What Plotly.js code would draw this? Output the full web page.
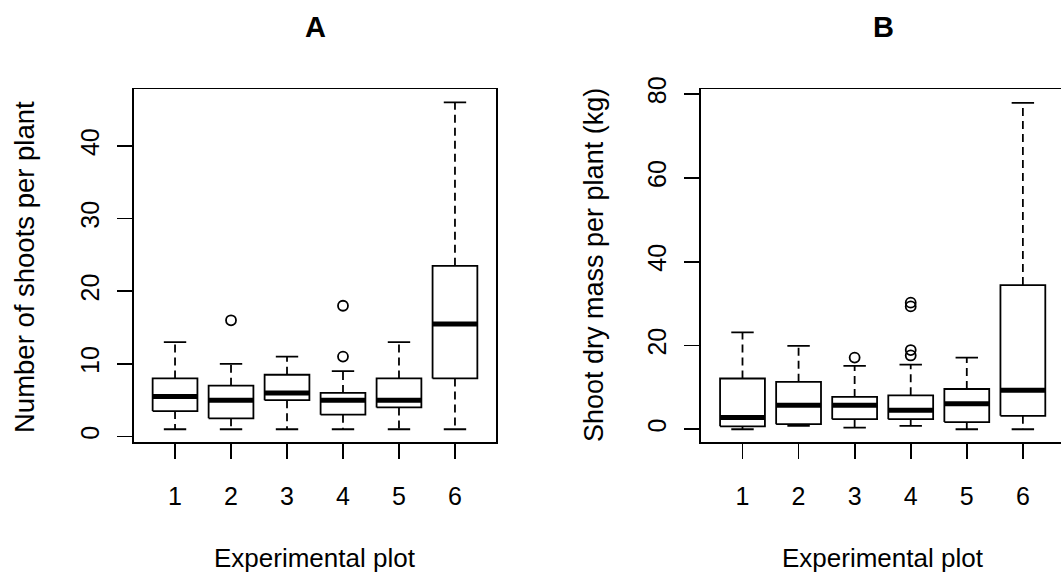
<!DOCTYPE html>
<html>
<head>
<meta charset="utf-8">
<script src="https://cdn.plot.ly/plotly-3.0.1.min.js"></script>
<style>html,body{margin:0;padding:0;background:#fff;}#chart{width:1061px;height:578px;}</style>
</head>
<body>
<div id="chart"></div>
<script>
// ---- data ----
var plots = [1, 2, 3, 4, 5, 6];

// Panel A: Number of shoots per plant
var shootsLower  = [1, 1, 1, 1, 1, 1];
var shootsQ1     = [3.5, 2.5, 5, 3, 4, 8];
var shootsMedian = [5.5, 5, 6, 5, 5, 15.5];
var shootsQ3     = [8, 7, 8.5, 6, 8, 23.5];
var shootsUpper  = [13, 10, 11, 9, 13, 46];
var shootsOutPlot = [2, 4, 4];
var shootsOutVal  = [16, 11, 18];

// Panel B: Shoot dry mass per plant (kg)
var massLower  = [0, 0.8, 0.4, 0.8, 0, 0];
var massQ1     = [0.7, 1.2, 2.4, 2.4, 1.7, 3.2];
var massMedian = [2.8, 5.7, 5.7, 4.5, 6.1, 9.3];
var massQ3     = [12.1, 11.3, 7.7, 8.1, 9.6, 34.4];
var massUpper  = [23.1, 19.9, 15.1, 15.4, 17.1, 77.9];
var massOutPlot = [3, 4, 4, 4, 4];
var massOutVal  = [17.1, 30.2, 29.3, 18.9, 17.6];

var yTicksA = [0, 10, 20, 30, 40];
var yTicksB = [0, 20, 40, 60, 80];

// ---- styles ----
var BOXHALF = 0.4, CAPHALF = 0.2, LW = 1.8;
var FONT = 'Liberation Sans, Arial, Helvetica, sans-serif';

function boxTraces(xa, ya, lo, q1, med, q3, hi, outX, outY) {
  var bx = [], by = [], mx = [], my = [], wx = [], wy = [], cx = [], cy = [];
  for (var i = 0; i < plots.length; i++) {
    var p = plots[i];
    bx.push(p - BOXHALF, p + BOXHALF, p + BOXHALF, p - BOXHALF, p - BOXHALF, null);
    by.push(q1[i], q1[i], q3[i], q3[i], q1[i], null);
    mx.push(p - BOXHALF, p + BOXHALF, null);
    my.push(med[i], med[i], null);
    wx.push(p, p, null, p, p, null);
    wy.push(q3[i], hi[i], null, q1[i], lo[i], null);
    cx.push(p - CAPHALF, p + CAPHALF, null, p - CAPHALF, p + CAPHALF, null);
    cy.push(hi[i], hi[i], null, lo[i], lo[i], null);
  }
  var common = {type: 'scatter', mode: 'lines', xaxis: xa, yaxis: ya, hoverinfo: 'skip', showlegend: false};
  return [
    Object.assign({x: wx, y: wy, line: {color: '#000', width: LW, dash: '8px,5px'}}, common),
    Object.assign({x: cx, y: cy, line: {color: '#000', width: LW}}, common),
    Object.assign({x: bx, y: by, line: {color: '#000', width: LW}}, common),
    Object.assign({x: mx, y: my, line: {color: '#000', width: 5}}, common),
    {type: 'scatter', mode: 'markers', x: outX, y: outY, xaxis: xa, yaxis: ya, showlegend: false,
     marker: {symbol: 'circle-open', size: 10, color: '#000', line: {width: LW, color: '#000'}}}
  ];
}

var data = [].concat(
  boxTraces('x', 'y', shootsLower, shootsQ1, shootsMedian, shootsQ3, shootsUpper, shootsOutPlot, shootsOutVal),
  boxTraces('x2', 'y2', massLower, massQ1, massMedian, massQ3, massUpper, massOutPlot, massOutVal)
);

var W = 1061, H = 578;
var yDom = [(H - 442.3) / H, (H - 89.3) / H];
var axisBase = {
  showgrid: false, zeroline: false, showline: true, linecolor: '#000', linewidth: LW,
  ticks: 'outside', ticklen: 15, tickwidth: LW, tickcolor: '#000',
  tickfont: {family: FONT, size: 25, color: '#000'}, fixedrange: true
};

var layout = {
  width: W, height: H,
  margin: {l: 0, r: 0, t: 0, b: 0},
  paper_bgcolor: '#fff', plot_bgcolor: '#fff',
  font: {family: FONT, color: '#000'},
  showlegend: false,
  xaxis: Object.assign({}, axisBase, {domain: [133.6 / W, 496.4 / W], range: [0.26, 6.74], tickvals: plots, ticktext: plots.map(String), mirror: true, anchor: 'y', ticklabelstandoff: 16}),
  yaxis: Object.assign({}, axisBase, {domain: yDom, range: [-0.8, 47.8], tickvals: yTicksA, ticktext: yTicksA.map(String), tickangle: -90, mirror: true, anchor: 'x', ticklabelstandoff: 8}),
  xaxis2: Object.assign({}, axisBase, {domain: [701 / W, 1], range: [0.26, 6.68], tickvals: plots, ticktext: plots.map(String), mirror: true, anchor: 'y2', ticklabelstandoff: 16}),
  yaxis2: Object.assign({}, axisBase, {domain: yDom, range: [-3.12, 81.12], tickvals: yTicksB, ticktext: yTicksB.map(String), tickangle: -90, mirror: false, anchor: 'x2', ticklabelstandoff: 8}),
  annotations: [
    {text: '<b>A</b>', xref: 'paper', yref: 'paper', x: 315 / W, y: 1 - 27 / H, xanchor: 'center', yanchor: 'middle', showarrow: false, font: {family: FONT, size: 29, color: '#000'}},
    {text: '<b>B</b>', xref: 'paper', yref: 'paper', x: 883 / W, y: 1 - 27 / H, xanchor: 'center', yanchor: 'middle', showarrow: false, font: {family: FONT, size: 29, color: '#000'}},
    {text: 'Number of shoots per plant', xref: 'paper', yref: 'paper', x: 24 / W, y: 1 - 267 / H, xanchor: 'center', yanchor: 'middle', textangle: -90, showarrow: false, font: {family: FONT, size: 27.5, color: '#000'}},
    {text: 'Shoot dry mass per plant (kg)', xref: 'paper', yref: 'paper', x: 594 / W, y: 1 - 265 / H, xanchor: 'center', yanchor: 'middle', textangle: -90, showarrow: false, font: {family: FONT, size: 27, color: '#000'}},
    {text: 'Experimental plot', xref: 'paper', yref: 'paper', x: 315 / W, y: 1 - 558 / H, xanchor: 'center', yanchor: 'middle', showarrow: false, font: {family: FONT, size: 26, color: '#000'}},
    {text: 'Experimental plot', xref: 'paper', yref: 'paper', x: 883 / W, y: 1 - 558 / H, xanchor: 'center', yanchor: 'middle', showarrow: false, font: {family: FONT, size: 26, color: '#000'}}
  ]
};

Plotly.newPlot('chart', data, layout, {staticPlot: true, displayModeBar: false});
</script>
</body>
</html>
